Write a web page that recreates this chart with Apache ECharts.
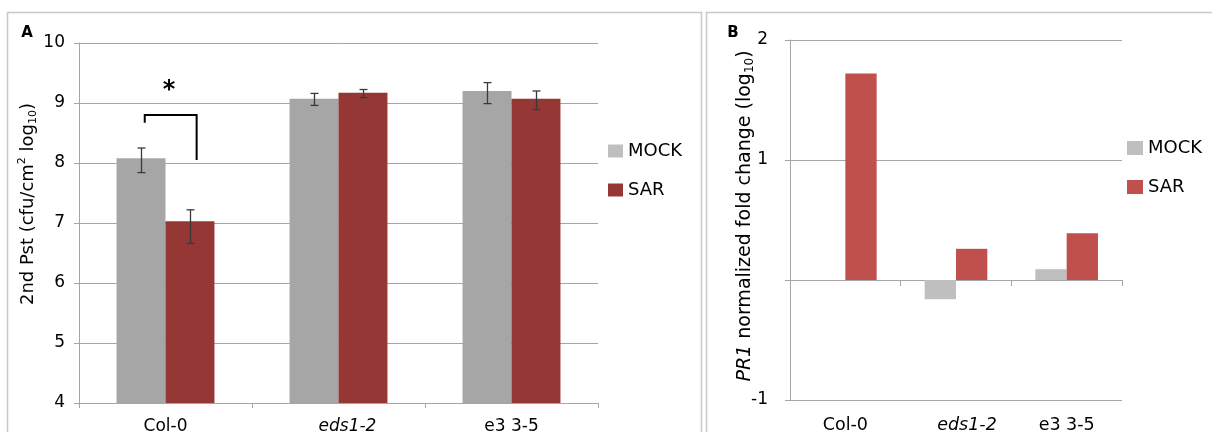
<!DOCTYPE html>
<html>
<head>
<meta charset="utf-8">
<script src="https://cdn.jsdelivr.net/npm/echarts@6/dist/echarts.min.js"></script>
<style>
html,body{margin:0;padding:0;background:#fff;}
#c{width:1212px;height:432px;}
</style>
</head>
<body>
<div id="c"></div>
<script>
// ---- data ----
const categories = ['Col-0', 'eds1-2', 'e3 3-5'];
// Panel A: 2nd Pst (cfu/cm2 log10)
const mockA = [8.08, 9.07, 9.20];
const sarA = [7.03, 9.17, 9.07];
const mockAErrPlus = [0.17, 0.09, 0.14];
const mockAErrMinus = [0.24, 0.11, 0.21];
const sarAErrPlus = [0.19, 0.055, 0.13];
const sarAErrMinus = [0.37, 0.08, 0.18];
// significance bracket: [category index, top, left end, right end, star level]
const bracketA = [[0, 8.80, 8.67, 8.05, 9.2]];
const ticksA = [4, 5, 6, 7, 8, 9, 10];
// Panel B: PR1 normalized fold change (log10)
const mockB = [0.0, -0.16, 0.09];
const sarB = [1.72, 0.26, 0.39];
const ticksB = ['-1', '', '1', '2'];

const FONT = 'DejaVu Sans';
const GRID_COL = '#A6A6A6';
const BAR_W = 0.283;

const chart = echarts.init(document.getElementById('c'), null, {renderer: 'canvas'});

function catLabel(v) {
  return v === 'eds1-2' ? '{i|' + v + '}' : v;
}
const richCatA = {i: {fontStyle: 'italic', fontFamily: FONT, fontSize: 17, color: '#000', padding: [0, 0, 0, 18]}};
const richCatB = {i: {fontStyle: 'italic', fontFamily: FONT, fontSize: 17.5, color: '#000', padding: [0, 0, 0, 22]}};

function errSeries(vals, plus, minus, side) {
  return {
    type: 'custom', xAxisIndex: 0, yAxisIndex: 0, z: 5, silent: true,
    data: vals.map((v, i) => [i, v + plus[i], v - minus[i]]),
    renderItem: function (params, api) {
      const i = api.value(0);
      const hi = api.coord([i, api.value(1)]);
      const lo = api.coord([i, api.value(2)]);
      const band = api.size([1, 0])[0];
      const x = Math.round(hi[0] + side * band * BAR_W / 2) + 0.5;
      const st = {stroke: '#3a3a3a', lineWidth: 1.3};
      return {
        type: 'group', children: [
          {type: 'line', shape: {x1: x, y1: hi[1], x2: x, y2: lo[1]}, style: st},
          {type: 'line', shape: {x1: x - 4, y1: hi[1], x2: x + 4, y2: hi[1]}, style: st},
          {type: 'line', shape: {x1: x - 4, y1: lo[1], x2: x + 4, y2: lo[1]}, style: st}
        ]
      };
    }
  };
}

const option = {
  animation: false,
  textStyle: {fontFamily: FONT},
  grid: [
    {left: 79, top: 43, width: 519, height: 360, containLabel: false, outerBoundsMode: 'none'},
    {left: 790, top: 40, width: 332, height: 360, containLabel: false, outerBoundsMode: 'none'}
  ],
  legend: [
    {
      left: 608, top: 142, orient: 'vertical', padding: 0,
      itemWidth: 15, itemHeight: 13, itemGap: 21, selectedMode: false,
      icon: 'rect',
      textStyle: {fontFamily: FONT, fontSize: 18, color: '#000'},
      data: [{name: 'MOCK', itemStyle: {color: '#BFBFBF'}}, {name: 'SAR'}]
    },
    {
      left: 1127, top: 139, orient: 'vertical', padding: 0,
      itemWidth: 16, itemHeight: 14, itemGap: 21, selectedMode: false,
      icon: 'rect',
      textStyle: {fontFamily: FONT, fontSize: 18, color: '#000'},
      formatter: n => n.replace(' B', ''),
      data: ['MOCK B', 'SAR B']
    }
  ],
  xAxis: [
    {
      gridIndex: 0, type: 'category', data: categories, position: 'bottom',
      axisLine: {lineStyle: {color: GRID_COL, width: 1}},
      axisTick: {show: true, length: 5, lineStyle: {color: GRID_COL}},
      axisLabel: {interval: 0, hideOverlap: false, margin: 15, fontSize: 17, color: '#000', fontFamily: FONT, formatter: catLabel, rich: richCatA}
    },
    {
      gridIndex: 1, type: 'category', data: categories, position: 'bottom',
      axisLine: {onZero: true, lineStyle: {color: GRID_COL, width: 1}},
      axisTick: {show: true, length: 6, lineStyle: {color: GRID_COL}},
      axisLabel: {show: false}
    },
    {
      gridIndex: 1, type: 'category', data: categories, position: 'bottom',
      axisLine: {show: false, onZero: false},
      axisTick: {show: false},
      axisLabel: {interval: 0, hideOverlap: false, margin: 16, fontSize: 17.5, color: '#000', fontFamily: FONT, formatter: catLabel, rich: richCatB}
    }
  ],
  yAxis: [
    {
      gridIndex: 0, type: 'value', min: ticksA[0], max: ticksA[ticksA.length - 1], interval: 1,
      axisLine: {show: true, lineStyle: {color: GRID_COL}},
      axisTick: {show: true, length: 5, lineStyle: {color: GRID_COL}},
      splitLine: {show: true, lineStyle: {color: GRID_COL}},
      axisLabel: {margin: 14, fontSize: 17, color: '#000', fontFamily: FONT}
    },
    {
      gridIndex: 1, type: 'value', min: -1, max: 2, interval: 1,
      axisLine: {show: true, lineStyle: {color: GRID_COL}},
      axisTick: {show: true, length: 5, lineStyle: {color: GRID_COL}},
      splitLine: {show: true, lineStyle: {color: GRID_COL}},
      axisLabel: {margin: 22, fontSize: 17, color: '#000', fontFamily: FONT,
        formatter: v => ticksB[Math.round(v) + 1]}
    }
  ],
  series: [
    {name: 'MOCK', type: 'bar', xAxisIndex: 0, yAxisIndex: 0, data: mockA,
      barWidth: (BAR_W * 100) + '%', barGap: '0%', itemStyle: {color: '#A6A6A6'}, silent: true},
    {name: 'SAR', type: 'bar', xAxisIndex: 0, yAxisIndex: 0, data: sarA,
      barWidth: (BAR_W * 100) + '%', barGap: '0%', itemStyle: {color: '#953735'}, silent: true},
    errSeries(mockA, mockAErrPlus, mockAErrMinus, -1),
    errSeries(sarA, sarAErrPlus, sarAErrMinus, 1),
    {
      type: 'custom', xAxisIndex: 0, yAxisIndex: 0, z: 6, silent: true,
      data: bracketA,
      renderItem: function (params, api) {
        const i = api.value(0);
        const top = api.coord([i, api.value(1)]);
        const l = api.coord([i, api.value(2)]);
        const r = api.coord([i, api.value(3)]);
        const s = api.coord([i, api.value(4)]);
        const band = api.size([1, 0])[0];
        const xl = top[0] - 0.12 * band;
        const xr = top[0] + 0.18 * band;
        return {
          type: 'group', children: [
            {type: 'polyline', shape: {points: [[xl, l[1]], [xl, top[1]], [xr, top[1]], [xr, r[1]]]},
              style: {stroke: '#000', lineWidth: 2, fill: null}},
            {type: 'text', x: top[0] + 0.02 * band, y: s[1],
              style: {text: '*', font: 'bold 24px ' + FONT, fill: '#000', align: 'center', verticalAlign: 'middle'}}
          ]
        };
      }
    },
    {name: 'MOCK B', type: 'bar', xAxisIndex: 1, yAxisIndex: 1, data: mockB,
      barWidth: (BAR_W * 100) + '%', barGap: '0%', itemStyle: {color: '#BFBFBF'}, silent: true},
    {name: 'SAR B', type: 'bar', xAxisIndex: 1, yAxisIndex: 1, data: sarB,
      barWidth: (BAR_W * 100) + '%', barGap: '0%', itemStyle: {color: '#C0504D'}, silent: true}
  ],
  graphic: [
    {type: 'rect', shape: {x: 7.5, y: 12.5, width: 694, height: 440}, style: {fill: null, stroke: '#C8C8C8', lineWidth: 1.5}, silent: true},
    {type: 'rect', shape: {x: 706.5, y: 12.5, width: 520, height: 440}, style: {fill: null, stroke: '#C8C8C8', lineWidth: 1.5}, silent: true},
    {type: 'text', x: 27, y: 33, style: {text: 'A', font: 'bold 15px ' + FONT, fill: '#000', align: 'center', verticalAlign: 'middle'}},
    {type: 'text', x: 733, y: 33, style: {text: 'B', font: 'bold 15px ' + FONT, fill: '#000', align: 'center', verticalAlign: 'middle'}},
    {type: 'text', x: 28, y: 204, rotation: Math.PI / 2,
      style: {text: '2nd Pst (cfu/cm{sup|2} log{sub|10})', font: '18px ' + FONT, fill: '#000',
        align: 'center', verticalAlign: 'middle',
        rich: {
          sup: {fontSize: 11, fontFamily: FONT, verticalAlign: 'top', lineHeight: 22, fill: '#000'},
          sub: {fontSize: 11, fontFamily: FONT, verticalAlign: 'bottom', lineHeight: 22, fill: '#000'}
        }}},
    {type: 'text', x: 745, y: 216, rotation: Math.PI / 2,
      style: {text: '{i|PR1} normalized fold change (log{sub|10})', font: '19px ' + FONT, fill: '#000',
        align: 'center', verticalAlign: 'middle',
        rich: {
          i: {fontStyle: 'italic', fontSize: 19, fontFamily: FONT, fill: '#000'},
          sub: {fontSize: 12, fontFamily: FONT, verticalAlign: 'bottom', lineHeight: 22, fill: '#000'}
        }}}
  ]
};
chart.setOption(option);
</script>
</body>
</html>
